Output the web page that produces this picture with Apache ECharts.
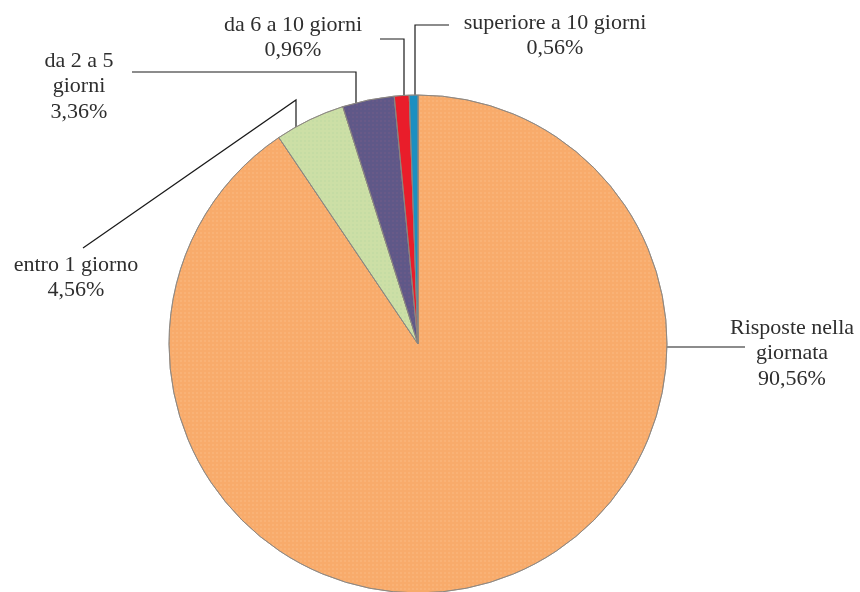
<!DOCTYPE html>
<html>
<head>
<meta charset="utf-8">
<script src="https://cdn.jsdelivr.net/npm/echarts@6/dist/echarts.min.js"></script>
<style>
  html, body { margin: 0; padding: 0; background: #ffffff; }
  #chart { width: 860px; height: 592px; }
</style>
</head>
<body>
<div id="chart"></div>
<script>
// Response times, share of requests (%)
const categories = [
  'Risposte nella giornata',
  'entro 1 giorno',
  'da 2 a 5 giorni',
  'da 6 a 10 giorni',
  'superiore a 10 giorni'
];
const shares = [90.56, 4.56, 3.36, 0.96, 0.56];

// Label text lines (how each category name wraps)
const labelLines = [
  ['Risposte nella', 'giornata'],
  ['entro 1 giorno'],
  ['da 2 a 5', 'giorni'],
  ['da 6 a 10 giorni'],
  ['superiore a 10 giorni']
];

const sliceColors = ['#F8AB6B', '#CCDFA6', '#5F5888', '#E91D2A', '#1B8FC1'];
// Fine dotted screen printed over each slice
const dotColors = ['rgba(255,236,200,0.5)', 'rgba(150,200,150,0.5)', 'rgba(160,110,140,0.55)', 'rgba(0,0,0,0)', 'rgba(0,0,0,0)'];

// Label box placement (centre x, top y) and leader-line routes, in px
const labelPlacement = [
  { x: 792, y: 315, line: [[665, 347], [705, 347], [745, 347]] },
  { x: 76,  y: 252, line: [[296, 138], [296, 100], [83, 248]] },
  { x: 79,  y: 48,  line: [[356, 120], [356, 72], [132, 72]] },
  { x: 293, y: 12,  line: [[404, 96], [404, 39], [380, 39]] },
  { x: 555, y: 10,  line: [[415, 96], [415, 25], [449, 25]] }
];

const fmtPct = v => v.toFixed(2).replace('.', ',') + '%';

const chart = echarts.init(document.getElementById('chart'), null, { renderer: 'canvas' });

chart.setOption({
  backgroundColor: '#ffffff',
  animation: false,
  aria: { enabled: true, decal: { show: true } },
  series: [{
    type: 'pie',
    center: [418, 344],
    radius: 249,
    startAngle: 90,
    clockwise: true,
    avoidLabelOverlap: false,
    data: categories.map((name, i) => ({
      name: name,
      value: shares[i],
      itemStyle: {
        color: sliceColors[i],
        decal: {
          symbol: 'rect',
          symbolSize: 0.5,
          color: dotColors[i],
          dashArrayX: [2, 2],
          dashArrayY: [2, 2],
          rotation: 0
        }
      }
    })),
    itemStyle: {
      borderColor: '#8a8580',
      borderWidth: 0.8
    },
    label: {
      show: true,
      position: 'outside',
      fontFamily: 'Liberation Serif',
      fontSize: 22,
      lineHeight: 25.5,
      color: '#2e2e2e',
      align: 'center',
      formatter: p => labelLines[p.dataIndex].concat(fmtPct(p.value)).join('\n')
    },
    labelLine: {
      show: true,
      lineStyle: { color: '#1a1a1a', width: 1.2 }
    },
    labelLayout: params => {
      const pl = labelPlacement[params.dataIndex];
      return {
        x: pl.x,
        y: pl.y,
        align: 'center',
        verticalAlign: 'top',
        labelLinePoints: pl.line
      };
    }
  }]
});
</script>
</body>
</html>
